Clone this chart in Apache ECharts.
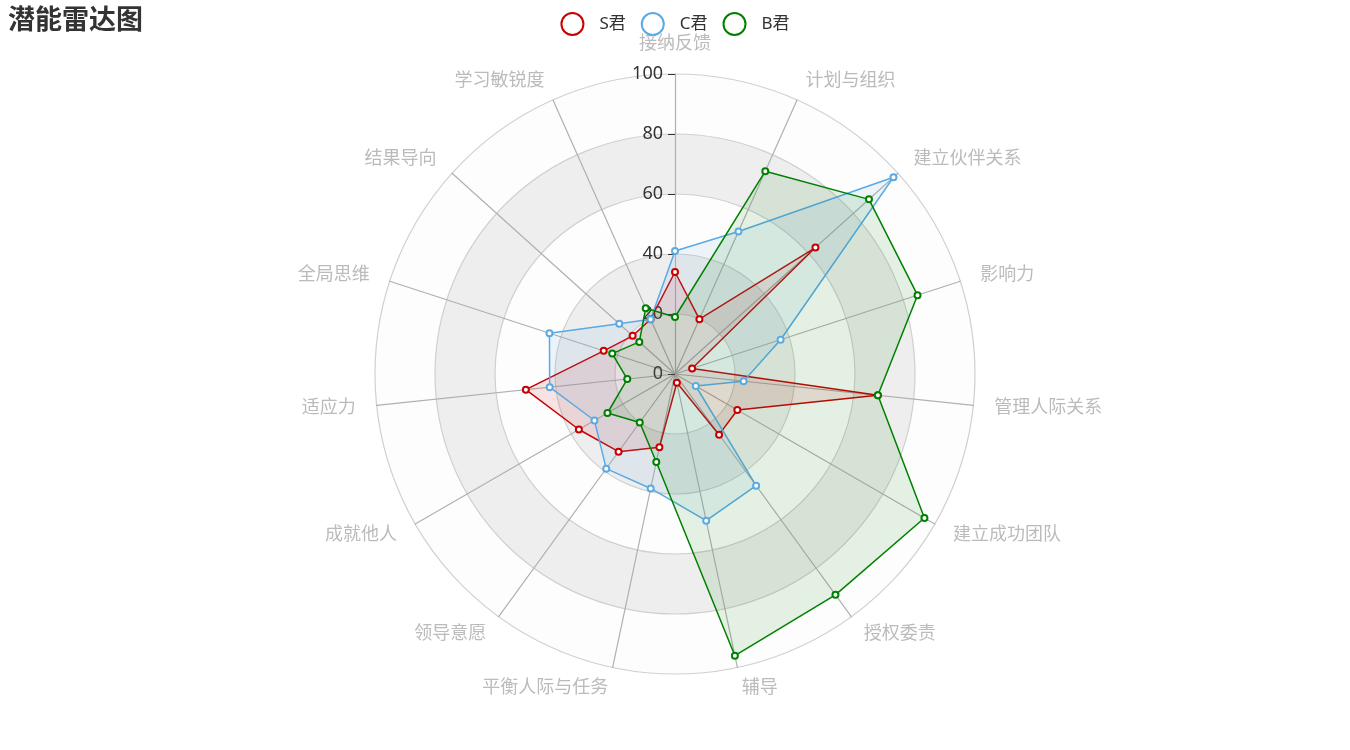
<!DOCTYPE html>
<html>
<head>
<meta charset="utf-8">
<script src="https://cdn.jsdelivr.net/npm/echarts@6/dist/echarts.min.js"></script>
<style>html,body{margin:0;padding:0;background:#fff;}#main{width:1350px;height:750px;}</style>
</head>
<body>
<div id="main"></div>
<script>
// Indicators in ECharts (counter-clockwise) order, starting from the top
const indicators = ['接纳反馈', '学习敏锐度', '结果导向', '全局思维', '适应力', '成就他人', '领导意愿', '平衡人际与任务', '辅导', '授权委责', '建立成功团队', '管理人际关系', '影响力', '建立伙伴关系', '计划与组织'];
const seriesNames = ['S君', 'C君', 'B君'];
const sValues = [34, 20, 19, 25, 50, 37, 32, 25, 3, 25, 24, 68, 6, 63, 20];
const cValues = [41, 20, 25, 44, 42, 31, 39, 39, 50, 46, 8, 23, 37, 98, 52];
const bValues = [19, 24, 16, 22, 16, 26, 20, 30, 96, 91, 96, 68, 85, 87, 74];
const maxValue = 100;
const colors = ['#c80000', '#5aaae6', '#008000'];

const chart = echarts.init(document.getElementById('main'));
const font = '"Noto Sans", "Noto Sans CJK SC", sans-serif';
const indicatorOpts = indicators.map((name, i) => {
  const o = { name: name, max: maxValue, min: 0 };
  if (i === 0) {
    o.axisLabel = { show: true, color: '#333', fontSize: 18, margin: 12, fontFamily: font };
    o.axisTick = { show: true, length: 7, lineStyle: { color: '#333' } };
  }
  return o;
});
const allValues = [sValues, cValues, bValues];
chart.setOption({
  animation: false,
  textStyle: { fontFamily: font },
  title: {
    text: '潜能雷达图', left: 3, top: 3,
    textStyle: { fontSize: 27, fontWeight: 'bold', color: '#333', fontFamily: font }
  },
  color: colors,
  legend: {
    top: 7, left: 'center',
    itemWidth: 44, itemHeight: 22, itemGap: 15,
    textStyle: { fontSize: 17, color: '#333', fontFamily: font },
    data: seriesNames.map(n => ({ name: n, icon: 'emptyCircle' }))
  },
  radar: {
    center: [675, 374],
    radius: 300,
    shape: 'circle',
    startAngle: 90,
    splitNumber: 5,
    nameGap: 21,
    axisName: { color: '#bbb', fontSize: 18, fontFamily: font },
    axisLine: { lineStyle: { color: '#b0b0b0', width: 1.2 } },
    splitLine: { lineStyle: { color: '#d0d0d0', width: 1.2 } },
    splitArea: { show: true, areaStyle: { color: ['rgba(250,250,250,0.3)', 'rgba(200,200,200,0.3)'] } },
    axisLabel: { show: false },
    axisTick: { show: false },
    indicator: indicatorOpts
  },
  series: [{
    type: 'radar',
    data: seriesNames.map((n, i) => ({
      name: n,
      value: allValues[i],
      symbol: 'emptyCircle',
      symbolSize: 6,
      lineStyle: { color: colors[i], width: 1.5 },
      itemStyle: { color: colors[i], borderWidth: 1.5 },
      areaStyle: { color: colors[i], opacity: 0.1 }
    }))
  }]
});
</script>
</body>
</html>
